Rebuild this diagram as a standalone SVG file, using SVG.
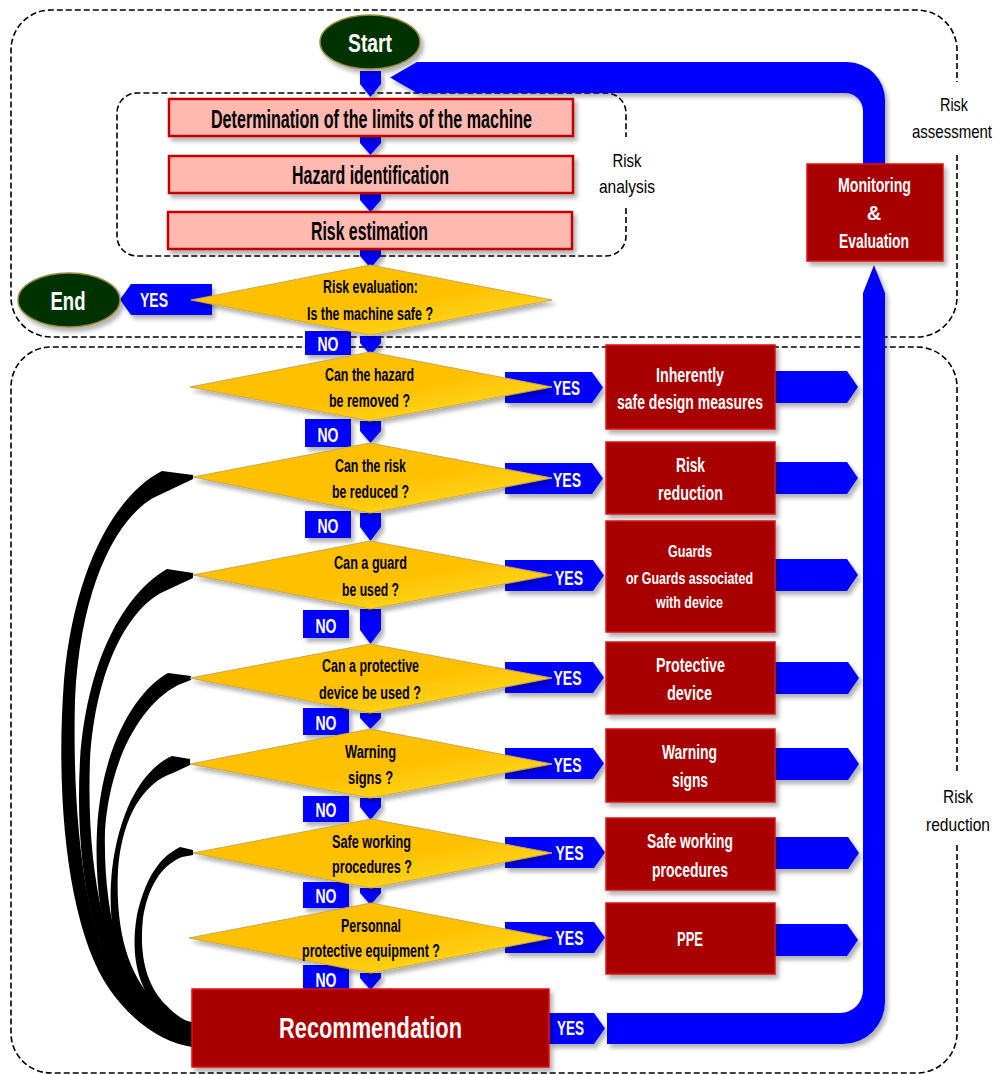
<svg xmlns="http://www.w3.org/2000/svg" width="1000" height="1074" viewBox="0 0 1000 1074">
<defs>
<linearGradient id="gold" x1="0" y1="0" x2="1" y2="1">
<stop offset="0" stop-color="#FFC000"/>
<stop offset="0.55" stop-color="#FFC000"/>
<stop offset="1" stop-color="#FFE52E"/>
</linearGradient>
<filter id="sh" x="-10%" y="-10%" width="130%" height="150%">
<feDropShadow dx="3" dy="4" stdDeviation="2" flood-color="#000" flood-opacity="0.3"/>
</filter>
</defs>
<style>
.dash{fill:none;stroke:#000;stroke-width:1.6;stroke-dasharray:6 3}
.pink{fill:#FFB9B0;stroke:#C00000;stroke-width:2.5}
.red{fill:#A80000;stroke:#E01010;stroke-width:1.5}
.dia{fill:url(#gold);stroke:#C8A850;stroke-width:1}
.blue{fill:#0000FF}
.ell{fill:#003300;stroke:#9A8A3A;stroke-width:1.5}
.t{font-family:"Liberation Sans Narrow","Arial Narrow","Liberation Sans",sans-serif;font-weight:bold;text-anchor:middle}
.w{fill:#fff}
.k{fill:#000}
.lab{font-family:"Liberation Sans Narrow","Arial Narrow","Liberation Sans",sans-serif;font-size:19px;text-anchor:middle;fill:#000}
</style>
<rect width="1000" height="1074" fill="#fff"/>

<g id="group-risk-assessment">
<path class="dash" d="M957,155 V297 A40,40 0 0 1 917,337 H51 A40,40 0 0 1 11,297 V50 A40,40 0 0 1 51,10 H917 A40,40 0 0 1 957,50 V82"/>
<text class="lab" x="954" y="111" textLength="28" lengthAdjust="spacingAndGlyphs">Risk</text>
<text class="lab" x="952" y="138" textLength="80" lengthAdjust="spacingAndGlyphs">assessment</text>
</g>
<g id="group-risk-reduction">
<path class="dash" d="M957,845 V1033 A40,40 0 0 1 917,1073 H51 A40,40 0 0 1 11,1033 V387 A40,40 0 0 1 51,347 H917 A40,40 0 0 1 957,387 V772"/>
<text class="lab" x="958" y="803" textLength="30" lengthAdjust="spacingAndGlyphs">Risk</text>
<text class="lab" x="958" y="831" textLength="64" lengthAdjust="spacingAndGlyphs">reduction</text>
</g>
<g id="group-risk-analysis">
<path class="dash" d="M626,208 V236 A20,20 0 0 1 606,256 H137 A20,20 0 0 1 117,236 V113 A20,20 0 0 1 137,93 H606 A20,20 0 0 1 626,113 V137"/>
<text class="lab" x="627" y="167" textLength="29" lengthAdjust="spacingAndGlyphs">Risk</text>
<text class="lab" x="627" y="193" textLength="56" lengthAdjust="spacingAndGlyphs">analysis</text>
</g>

<g id="connectors">
<!-- feedback loop -->
<path class="blue" filter="url(#sh)" d="M390,77.5 L417,62 H847 A38,38 0 0 1 885,100 V165 H863 V111 A18,18 0 0 0 845,93 H417 Z"/>
<path class="blue" filter="url(#sh)" d="M607,1013 H840 A23,23 0 0 0 863,990 V293 L874,265 L885,293 V1002 A42,42 0 0 1 843,1044 H607 Z"/>
<!-- down arrows -->
<g class="blue" filter="url(#sh)">
<path d="M360,71 H381 V84 L370.5,97 L360,84 Z"/>
<path d="M360,136 H381 V143 L370.5,155 L360,143 Z"/>
<path d="M360,193 H381 V200 L370.5,212 L360,200 Z"/>
<path d="M360,249 H381 V256 L370.5,268 L360,256 Z"/>
<path d="M360,336 H381 V343 L370.5,355 L360,343 Z"/>
<path d="M360,421 H381 V431 L370.5,443 L360,431 Z"/>
<path d="M360,513 H381 V527 L370.5,541 L360,527 Z"/>
<path d="M360,609 H381 V630 L370.5,644 L360,630 Z"/>
<path d="M360,713 H381 V718 L370.5,729 L360,718 Z"/>
<path d="M360,798 H381 V807 L370.5,820 L360,807 Z"/>
<path d="M360,888 H381 V893 L370.5,905 L360,893 Z"/>
<path d="M360,973 H381 V978 L370.5,990 L360,978 Z"/>
</g>
<!-- YES arrows from diamonds -->
<g class="blue" filter="url(#sh)">
<path d="M505,372 H592 L603,387.5 L592,403 H505 Z"/>
<path d="M505,463 H592 L603,478.5 L592,494 H505 Z"/>
<path d="M505,560 H593 L604,575.5 L593,591 H505 Z"/>
<path d="M505,662 H593 L604,677.5 L593,693 H505 Z"/>
<path d="M505,748 H593 L604,763.5 L593,779 H505 Z"/>
<path d="M505,837 H594 L605,852.5 L594,868 H505 Z"/>
<path d="M505,922 H594 L605,937.5 L594,953 H505 Z"/>
<path d="M549,1013 H594 L605,1028.5 L594,1044 H549 Z"/>
<path d="M212,284 V315 H131 L120,299.5 L131,284 Z"/>
</g>
<!-- arrows from measures to loop -->
<g class="blue" filter="url(#sh)">
<path d="M775,371 H847 L858,387 L847,403 H775 Z"/>
<path d="M775,462 H847 L858,478 L847,494 H775 Z"/>
<path d="M775,559 H847 L858,575 L847,591 H775 Z"/>
<path d="M775,662 H848 L859,678 L848,694 H775 Z"/>
<path d="M775,748 H848 L859,764 L848,780 H775 Z"/>
<path d="M775,837 H848 L859,853 L848,869 H775 Z"/>
<path d="M775,924 H847 L858,940 L847,956 H775 Z"/>
</g>
<!-- NO labels -->
<g class="blue" filter="url(#sh)">
<rect x="305" y="331" width="46" height="24"/>
<rect x="305" y="419" width="46" height="28"/>
<rect x="305" y="511" width="46" height="27"/>
<rect x="303" y="610" width="46" height="28"/>
<rect x="303" y="708" width="46" height="27"/>
<rect x="303" y="796" width="46" height="26"/>
<rect x="303" y="882" width="46" height="26"/>
<rect x="303" y="965" width="46" height="25"/>
</g>
<g class="t w" font-size="20">
<text x="328" y="351" textLength="21" lengthAdjust="spacingAndGlyphs">NO</text>
<text x="328" y="442" textLength="21" lengthAdjust="spacingAndGlyphs">NO</text>
<text x="328" y="533" textLength="21" lengthAdjust="spacingAndGlyphs">NO</text>
<text x="326" y="633" textLength="21" lengthAdjust="spacingAndGlyphs">NO</text>
<text x="326" y="730" textLength="21" lengthAdjust="spacingAndGlyphs">NO</text>
<text x="326" y="817" textLength="21" lengthAdjust="spacingAndGlyphs">NO</text>
<text x="326" y="903" textLength="21" lengthAdjust="spacingAndGlyphs">NO</text>
<text x="326" y="987" textLength="21" lengthAdjust="spacingAndGlyphs">NO</text>
</g>
<!-- black return curves (tapered) -->
<g fill="#000">
<path d="M193,475 L162,471 C120,492 75,560 64,680 C55,800 68,930 110,990 C135,1025 165,1043 192,1047 L192,1041 C170,1038 140,1020 121,990 C85,935 72,820 75,700 C80,590 115,520 153,498 L193,479 Z"/>
<path d="M193,573 L167,569 C130,590 88,650 80,760 C74,870 95,960 130,1005 C150,1030 170,1040 192,1044 L192,1038 C172,1034 155,1022 140,1002 C105,955 86,870 90,760 C96,665 130,608 163,592 L193,578 Z"/>
<path d="M191,676 L168,673 C140,688 102,740 97,830 C93,920 115,985 150,1015 C165,1030 180,1037 192,1040 L192,1034 C178,1030 165,1022 155,1010 C122,980 103,915 105,830 C110,760 140,705 178,685 L191,680 Z"/>
<path d="M190,759 L172,756 C145,768 120,805 112,870 C105,940 125,990 155,1012 C170,1025 182,1031 192,1034 L192,1029 C182,1026 170,1018 160,1006 C130,980 115,935 118,870 C122,815 145,782 173,773 L190,765 Z"/>
<path d="M193,850 L180,847 C158,858 145,880 137,915 C130,955 138,990 160,1010 C172,1020 182,1025 192,1027 L192,1023 C183,1020 174,1014 166,1005 C146,985 139,955 143,918 C148,888 160,866 182,857 L193,855 Z"/>
<path d="M116,990 C130,1000 148,1008 160,1011 C172,1017 182,1020 192,1022 L192,1046 C165,1042 138,1022 116,990 Z"/>
</g>
</g>

<g id="node-start">
<ellipse class="ell" filter="url(#sh)" cx="370" cy="42" rx="50" ry="27"/>
<text class="t w" x="370" y="52" font-size="25" textLength="44" lengthAdjust="spacingAndGlyphs">Start</text>
</g>
<g id="node-end">
<ellipse class="ell" filter="url(#sh)" cx="69" cy="300" rx="51" ry="27"/>
<text class="t w" x="68" y="310" font-size="25" textLength="35" lengthAdjust="spacingAndGlyphs">End</text>
</g>
<g id="label-yes-end"><text class="t w" x="154" y="307" font-size="20" textLength="28" lengthAdjust="spacingAndGlyphs">YES</text></g>

<g id="node-limits">
<rect class="pink" filter="url(#sh)" x="169" y="99" width="404" height="37"/>
<text class="t k" x="371.5" y="128" font-size="25" textLength="321" lengthAdjust="spacingAndGlyphs">Determination of the limits of the machine</text>
</g>
<g id="node-hazard-id">
<rect class="pink" filter="url(#sh)" x="169" y="156" width="404" height="37"/>
<text class="t k" x="370.5" y="184" font-size="25" textLength="157" lengthAdjust="spacingAndGlyphs">Hazard identification</text>
</g>
<g id="node-risk-estimation">
<rect class="pink" filter="url(#sh)" x="168" y="212" width="404" height="37"/>
<text class="t k" x="369.5" y="240" font-size="25" textLength="117" lengthAdjust="spacingAndGlyphs">Risk estimation</text>
</g>

<g id="node-risk-evaluation">
<polygon class="dia" filter="url(#sh)" points="370,265 552,300 370,335 191,300"/>
<text class="t k" x="370.5" y="293" font-size="18" textLength="95" lengthAdjust="spacingAndGlyphs">Risk evaluation:</text>
<text class="t k" x="370" y="320" font-size="18" textLength="126" lengthAdjust="spacingAndGlyphs">Is the machine safe ?</text>
</g>
<g id="node-hazard-removed">
<polygon class="dia" filter="url(#sh)" points="370,352 552,387 370,421 190,387"/>
<text class="t k" x="369.5" y="381" font-size="18" textLength="89" lengthAdjust="spacingAndGlyphs">Can the hazard</text>
<text class="t k" x="369.5" y="407" font-size="18" textLength="81" lengthAdjust="spacingAndGlyphs">be removed ?</text>
</g>
<g id="node-risk-reduced">
<polygon class="dia" filter="url(#sh)" points="370,443 552,478 370,513 193,477"/>
<text class="t k" x="370.5" y="472" font-size="18" textLength="71" lengthAdjust="spacingAndGlyphs">Can the risk</text>
<text class="t k" x="370.5" y="498" font-size="18" textLength="77" lengthAdjust="spacingAndGlyphs">be reduced ?</text>
</g>
<g id="node-guard">
<polygon class="dia" filter="url(#sh)" points="370,541 552,575 370,609 193,575"/>
<text class="t k" x="370.5" y="569" font-size="18" textLength="73" lengthAdjust="spacingAndGlyphs">Can a guard</text>
<text class="t k" x="370.5" y="596" font-size="18" textLength="57" lengthAdjust="spacingAndGlyphs">be used ?</text>
</g>
<g id="node-protective-device-q">
<polygon class="dia" filter="url(#sh)" points="370,644 552,678 370,713 190,678"/>
<text class="t k" x="370.5" y="672" font-size="18" textLength="97" lengthAdjust="spacingAndGlyphs">Can a protective</text>
<text class="t k" x="370" y="699" font-size="18" textLength="102" lengthAdjust="spacingAndGlyphs">device be used ?</text>
</g>
<g id="node-warning-q">
<polygon class="dia" filter="url(#sh)" points="370,729 552,764 370,798 190,764"/>
<text class="t k" x="370.5" y="758" font-size="18" textLength="51" lengthAdjust="spacingAndGlyphs">Warning</text>
<text class="t k" x="370.5" y="784" font-size="18" textLength="45" lengthAdjust="spacingAndGlyphs">signs ?</text>
</g>
<g id="node-procedures-q">
<polygon class="dia" filter="url(#sh)" points="371,819 552,853 371,888 193,853"/>
<text class="t k" x="371.5" y="848" font-size="18" textLength="79" lengthAdjust="spacingAndGlyphs">Safe working</text>
<text class="t k" x="372" y="873" font-size="18" textLength="80" lengthAdjust="spacingAndGlyphs">procedures ?</text>
</g>
<g id="node-ppe-q">
<polygon class="dia" filter="url(#sh)" points="371,903 552,938 371,973 189,938"/>
<text class="t k" x="371" y="932" font-size="18" textLength="60" lengthAdjust="spacingAndGlyphs">Personnal</text>
<text class="t k" x="371" y="957" font-size="18" textLength="138" lengthAdjust="spacingAndGlyphs">protective equipment ?</text>
</g>

<g id="yes-labels" class="t w" font-size="20">
<text x="566.5" y="395" textLength="27" lengthAdjust="spacingAndGlyphs">YES</text>
<text x="567" y="487" textLength="28" lengthAdjust="spacingAndGlyphs">YES</text>
<text x="569" y="585" textLength="28" lengthAdjust="spacingAndGlyphs">YES</text>
<text x="567.5" y="685" textLength="28" lengthAdjust="spacingAndGlyphs">YES</text>
<text x="567.5" y="772" textLength="28" lengthAdjust="spacingAndGlyphs">YES</text>
<text x="569.5" y="860" textLength="28" lengthAdjust="spacingAndGlyphs">YES</text>
<text x="569.5" y="945" textLength="28" lengthAdjust="spacingAndGlyphs">YES</text>
<text x="570.5" y="1035" textLength="27" lengthAdjust="spacingAndGlyphs">YES</text>
</g>

<g id="node-inherently-safe">
<rect class="red" filter="url(#sh)" x="606" y="345" width="169" height="84"/>
<text class="t w" x="690" y="382" font-size="20" textLength="68" lengthAdjust="spacingAndGlyphs">Inherently</text>
<text class="t w" x="690" y="409" font-size="20" textLength="146" lengthAdjust="spacingAndGlyphs">safe design measures</text>
</g>
<g id="node-risk-reduction">
<rect class="red" filter="url(#sh)" x="606" y="442" width="169" height="72"/>
<text class="t w" x="690.5" y="472" font-size="20" textLength="29" lengthAdjust="spacingAndGlyphs">Risk</text>
<text class="t w" x="690.5" y="500" font-size="20" textLength="65" lengthAdjust="spacingAndGlyphs">reduction</text>
</g>
<g id="node-guards">
<rect class="red" filter="url(#sh)" x="606" y="521" width="169" height="111"/>
<text class="t w" x="690" y="557" font-size="17" textLength="44" lengthAdjust="spacingAndGlyphs">Guards</text>
<text class="t w" x="689.5" y="584" font-size="17" textLength="127" lengthAdjust="spacingAndGlyphs">or Guards associated</text>
<text class="t w" x="689.5" y="608" font-size="17" textLength="67" lengthAdjust="spacingAndGlyphs">with device</text>
</g>
<g id="node-protective-device">
<rect class="red" filter="url(#sh)" x="606" y="642" width="169" height="72"/>
<text class="t w" x="690.5" y="672" font-size="20" textLength="69" lengthAdjust="spacingAndGlyphs">Protective</text>
<text class="t w" x="689.5" y="700" font-size="20" textLength="45" lengthAdjust="spacingAndGlyphs">device</text>
</g>
<g id="node-warning-signs">
<rect class="red" filter="url(#sh)" x="606" y="729" width="169" height="73"/>
<text class="t w" x="689.5" y="759" font-size="20" textLength="55" lengthAdjust="spacingAndGlyphs">Warning</text>
<text class="t w" x="690" y="787" font-size="20" textLength="36" lengthAdjust="spacingAndGlyphs">signs</text>
</g>
<g id="node-safe-working">
<rect class="red" filter="url(#sh)" x="606" y="818" width="169" height="72"/>
<text class="t w" x="690" y="848" font-size="20" textLength="86" lengthAdjust="spacingAndGlyphs">Safe working</text>
<text class="t w" x="690" y="877" font-size="20" textLength="76" lengthAdjust="spacingAndGlyphs">procedures</text>
</g>
<g id="node-ppe">
<rect class="red" filter="url(#sh)" x="606" y="903" width="169" height="71"/>
<text class="t w" x="690" y="946" font-size="20" textLength="26" lengthAdjust="spacingAndGlyphs">PPE</text>
</g>
<g id="node-recommendation">
<rect class="red" filter="url(#sh)" x="192" y="989" width="357" height="78"/>
<text class="t w" x="370.5" y="1038" font-size="29" textLength="183" lengthAdjust="spacingAndGlyphs">Recommendation</text>
</g>
<g id="node-monitoring">
<rect class="red" filter="url(#sh)" x="807" y="164" width="136" height="97"/>
<text class="t w" x="874.5" y="192" font-size="20" textLength="73" lengthAdjust="spacingAndGlyphs">Monitoring</text>
<text class="t w" x="874" y="220" font-size="20">&amp;</text>
<text class="t w" x="874" y="248" font-size="20" textLength="70" lengthAdjust="spacingAndGlyphs">Evaluation</text>
</g>
</svg>
